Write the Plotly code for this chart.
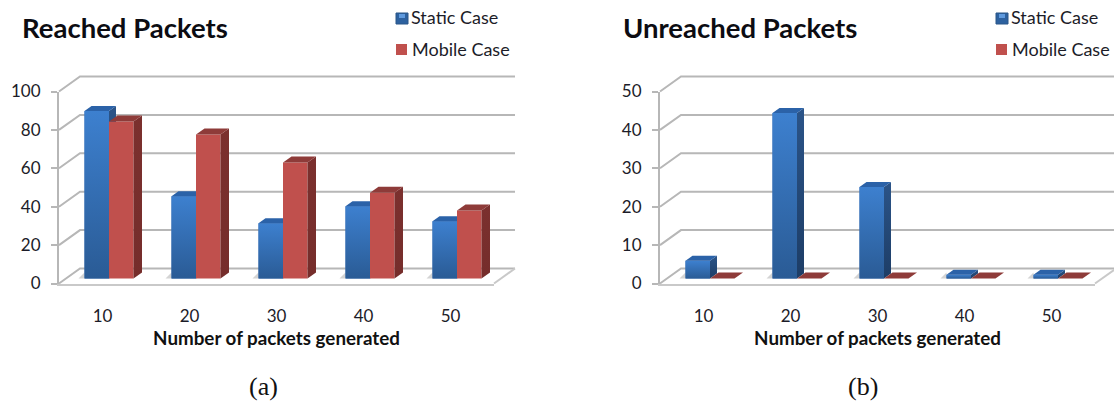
import plotly.graph_objects as go

# Series values, one per generated-packet count
CATEGORIES = ["10", "20", "30", "40", "50"]
REACHED_STATIC = [87.2, 42.8, 28.8, 37.6, 29.8]
REACHED_MOBILE = [81.8, 75, 60.4, 44.6, 35.4]
UNREACHED_STATIC = [4.6, 43.1, 23.8, 1, 1]
UNREACHED_MOBILE = [0, 0, 0, 0, 0]
REACHED_TICKS = [0, 20, 40, 60, 80, 100]
UNREACHED_TICKS = [0, 10, 20, 30, 40, 50]

SERIES_NAMES = ["Static Case", "Mobile Case"]
X_TITLE = "Number of packets generated"

W, H = 1114, 401
GROUP_PX = 87          # width of one category
FLOOR_Y = 283.5        # pixel row of the front floor edge
WALL_PX = 192          # height of the value axis
BACK_DX, BACK_DY = 21, 15   # offset of the back wall
BAR_SHIFT = 6.5        # horizontal shift of bars from the front plane
BAR_LIFT = 5           # vertical lift of bar bases above the front floor edge
BAR_W = 24.5
GRID = "#b7b7b7"
TEXT = "#1c1c28"
FONT = "Lato"

fig = go.Figure()
layout = {}
axis_count = [0]


def add_subplot(x0, x1, y_top, y_bottom, xrange, yrange, xopts=None, yopts=None):
    """Create a free-standing axis pair at the given pixel box and return its ids."""
    axis_count[0] += 1
    n = axis_count[0]
    sx = "" if n == 1 else str(n)
    hidden = dict(visible=False, fixedrange=True, automargin=False)
    layout["xaxis" + sx] = dict(hidden, domain=[x0 / W, x1 / W], range=xrange,
                                anchor="y" + sx, **(xopts or {}))
    layout["yaxis" + sx] = dict(hidden, domain=[1 - y_bottom / H, 1 - y_top / H],
                                range=yrange, anchor="x" + sx, **(yopts or {}))
    return "x" + sx, "y" + sx


def polygon(xa, ya, xs, ys, color=None, gradient=None):
    kw = dict(x=xs + xs[:1], y=ys + ys[:1], xaxis=xa, yaxis=ya, mode="none",
              fill="toself", hoverinfo="skip", showlegend=False)
    if gradient:
        kw["fillgradient"] = dict(type="vertical",
                                  colorscale=[[0, gradient[0]], [1, gradient[1]]])
    else:
        kw["fillcolor"] = color
    fig.add_trace(go.Scatter(**kw))


def polyline(xa, ya, xs, ys, color=GRID, width=2):
    fig.add_trace(go.Scatter(x=xs, y=ys, xaxis=xa, yaxis=ya, mode="lines",
                             line=dict(color=color, width=width),
                             hoverinfo="skip", showlegend=False))


def panel(left, right_clip, static, mobile, ticks):
    ymax = ticks[-1]
    upy = WALL_PX / ymax
    to_x = lambda px: px / GROUP_PX
    to_y = lambda px: px / upy
    n = len(CATEGORIES)
    cats = list(range(n))
    frame_right = left + GROUP_PX * n

    # Visible axes: value axis on the front plane, category labels under the floor
    xa, ya = add_subplot(
        left, frame_right, FLOOR_Y - WALL_PX, FLOOR_Y, [-0.5, n - 0.5], [0, ymax],
        xopts=dict(visible=True, showgrid=False, zeroline=False, showline=True,
                   linecolor="#c9c9c9", linewidth=2, ticks="", tickmode="array",
                   tickvals=cats, ticktext=CATEGORIES, ticklabelstandoff=16,
                   tickfont=dict(family=FONT, size=17, color=TEXT),
                   title=dict(text=X_TITLE, standoff=6,
                              font=dict(family=FONT, size=18.8, color="#111", weight="bold"))),
        yopts=dict(visible=True, showgrid=False, zeroline=False, showline=True,
                   linecolor=GRID, linewidth=2, ticks="outside", ticklen=6,
                   tickcolor=GRID, tickwidth=2, tickmode="array", tickvals=ticks,
                   ticklabelstandoff=7,
                   tickfont=dict(family=FONT, size=17, color=TEXT)))
    fig.add_trace(go.Scatter(x=cats, y=[0] * n, xaxis=xa, yaxis=ya, mode="lines",
                             line=dict(width=0), hoverinfo="skip", showlegend=False))

    # Shared pixel box for the walls and bars, wider than the front plane
    box_l, box_r, box_t, box_b = left - 5, right_clip, 50, FLOOR_Y + 8
    xr = [-0.5 + to_x(box_l - left), -0.5 + to_x(box_r - left)]
    yr = [to_y(FLOOR_Y - box_b), to_y(FLOOR_Y - box_t)]

    # Back wall, side wall and floor
    xg, yg = add_subplot(box_l, box_r, box_t, box_b, xr, yr)
    back_x, back_y = to_x(BACK_DX), to_y(BACK_DY)
    for t in ticks:
        polyline(xg, yg, [-0.5, -0.5 + back_x, n - 0.5 + back_x],
                 [t, t + back_y, t + back_y])
    polyline(xg, yg, [n - 0.5, n - 0.5 + back_x], [0, back_y], color="#c9c9c9")
    base = to_y(BAR_LIFT)
    bar_w = to_x(BAR_W)
    shift = to_x(BAR_SHIFT)
    # Soft contact shadows on the floor beside each group
    for i in cats:
        xl = i + shift - bar_w
        polygon(xg, yg, [xl - to_x(6), xl, xl], [base, base, base + to_y(6)], color="#d4d4d4")

    styles = [
        dict(values=static, offset=-bar_w, dx=7, dy=5, front="#3569ad", top="#2b62a8",
             side=("#1d3d66", "#2b5488"), grad=("#2a5b95", "#3d80cf"), name=SERIES_NAMES[0]),
        dict(values=mobile, offset=0, dx=8.5, dy=6, front="#c0504d", top="#8e3b39",
             side=("#752d2b", "#7b302e"), grad=None, name=SERIES_NAMES[1]),
    ]
    for st in styles:
        xs, ys = add_subplot(box_l, box_r, box_t, box_b, xr, yr)
        fig.add_trace(go.Bar(x=[i + shift for i in cats], y=st["values"], base=base,
                             width=bar_w, offset=st["offset"], xaxis=xs, yaxis=ys,
                             marker=dict(color=st["front"], line=dict(width=0)),
                             name=st["name"], showlegend=False))
        ddx, ddy = to_x(st["dx"]), to_y(st["dy"])
        for i, v in zip(cats, st["values"]):
            x0 = i + shift + st["offset"]
            x1 = x0 + bar_w
            top = base + v
            if st["grad"] and v > 0:
                polygon(xs, ys, [x0, x1, x1, x0], [base, base, top, top], gradient=st["grad"])
            polygon(xs, ys, [x1, x1 + ddx, x1 + ddx, x1],
                    [base, base + ddy, top + ddy, top], gradient=st["side"])
            polygon(xs, ys, [x0, x1, x1 + ddx, x0 + ddx],
                    [top, top, top + ddy, top + ddy], color=st["top"])


panel(59, 522, REACHED_STATIC, REACHED_MOBILE, REACHED_TICKS)
panel(660, W, UNREACHED_STATIC, UNREACHED_MOBILE, UNREACHED_TICKS)

annotations = []
shapes = []


def text(x, y, s, size, anchor="left", family=FONT, color=TEXT, bold=False):
    annotations.append(dict(x=x / W, y=1 - y / H, xref="paper", yref="paper", text=s,
                            showarrow=False, xanchor=anchor, yanchor="middle",
                            font=dict(family=family, size=size, color=color,
                                      weight="bold" if bold else "normal")))


def rect(x0, y0, x1, y1, fill, line=None):
    shapes.append(dict(type="rect", xref="paper", yref="paper", x0=x0 / W, x1=x1 / W,
                       y0=1 - y0 / H, y1=1 - y1 / H, fillcolor=fill,
                       line=dict(width=1 if line else 0, color=line or fill)))


def legend(x):
    rect(x, 13, x + 12, 24, "#2d619f", "#2a5788")
    rect(x + 3, 14, x + 9, 18, "#5f9ade")
    text(x + 13, 17, SERIES_NAMES[0], 18)
    rect(x, 44, x + 11, 55, "#c0504d")
    text(x + 14, 49, SERIES_NAMES[1], 18)


text(20, 28, "Reached Packets", 27.5, bold=True, color="#0c0c12")
text(621, 28, "Unreached Packets", 27.5, bold=True, color="#0c0c12")
legend(396)
legend(996)
text(263, 386, "(a)", 26, anchor="center", family="Liberation Serif", color="#111")
text(863, 386, "(b)", 26, anchor="center", family="Liberation Serif", color="#111")

fig.update_layout(
    width=W, height=H, margin=dict(l=0, r=0, t=0, b=0),
    paper_bgcolor="white", plot_bgcolor="rgba(0,0,0,0)",
    barmode="overlay", showlegend=False, hovermode=False,
    annotations=annotations, shapes=shapes, **layout,
)
fig.write_html("out.html", config={"displayModeBar": False})
